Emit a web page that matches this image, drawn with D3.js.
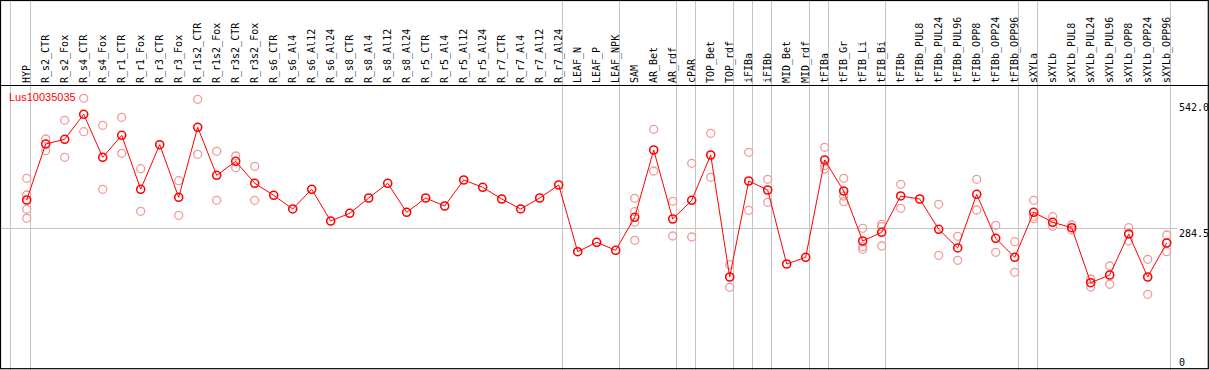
<!DOCTYPE html>
<html>
<head>
<meta charset="utf-8">
<script src="https://cdn.jsdelivr.net/npm/d3@7/dist/d3.min.js"></script>
<style>
  html, body { margin: 0; padding: 0; background: #fff; }
  svg { display: block; }
  text { font-family: "DejaVu Sans Mono", monospace; font-size: 10px; }
</style>
</head>
<body>
<svg id="chart" width="1209" height="370"></svg>
<script>
const geneName = "Lus10035035";

const categories = ["HYP","R_s2_CTR","R_s2_Fox","R_s4_CTR","R_s4_Fox","R_r1_CTR","R_r1_Fox","R_r3_CTR","R_r3_Fox",
  "R_r1s2_CTR","R_r1s2_Fox","R_r3s2_CTR","R_r3s2_Fox","R_s6_CTR","R_s6_Al4","R_s6_Al12","R_s6_Al24",
  "R_s8_CTR","R_s8_Al4","R_s8_Al12","R_s8_Al24","R_r5_CTR","R_r5_Al4","R_r5_Al12","R_r5_Al24",
  "R_r7_CTR","R_r7_Al4","R_r7_Al12","R_r7_Al24","LEAF_N","LEAF_P","LEAF_NPK","SAM","AR_Bet","AR_rdf",
  "cPAR","TOP_Bet","TOP_rdf","iFIBa","iFIBb","MID_Bet","MID_rdf","tFIBa","tFIB_Gr","tFIB_Li","tFIB_Bi",
  "tFIBb","tFIBb_PUL8","tFIBb_PUL24","tFIBb_PUL96","tFIBb_OPP8","tFIBb_OPP24","tFIBb_OPP96",
  "sXYLa","sXYLb","sXYLb_PUL8","sXYLb_PUL24","sXYLb_PUL96","sXYLb_OPP8","sXYLb_OPP24","sXYLb_OPP96"];

const meanValues = [344.6,463.4,473.4,526.5,435.2,481.9,367.3,462.0,350.3,
  498.9,397.0,426.7,380.0,354.5,325.5,367.3,300.0,
  316.3,348.8,380.0,318.4,348.8,331.8,387.0,371.5,
  346.7,325.5,348.8,376.4,234.8,254.8,237.8,307.8,450.7,304.2,
  343.9,440.1,181.1,384.9,365.8,208.7,222.9,429.5,363.7,257.5,276.0,
  353.1,346.7,282.4,242.7,356.7,263.3,222.9,
  318.4,297.2,285.8,169.0,185.3,272.4,181.1,253.3];

const replicateValues = [
  [390.6,355.2,324.8,305.7],[474.1,449.2],[513.8,435.2],[560.5,489.6],[503.1,367.3],[520.1,443.7],[411.0,320.6],[],[385.5,312.1],
  [558.3,441.6],[448.0,343.9],[438.0,413.1],[416.1,343.9],[],[],[],[],
  [],[],[],[],[],[],[],[],
  [],[],[],[],[],[],[],[348.2,319.7,297.2,259.0],[494.7,406.1],[341.8,268.1],
  [422.5,266.0],[486.2,392.8],[207.2,159.2],[445.8,322.7],[388.5,339.7],[],[],[456.4,417.8,410.4],[390.6,353.1,340.9],[284.5,245.4,239.9],[293.0,287.9,246.9],
  [377.9,326.9],[],[335.4,227.2],[267.5,216.5],[388.5,323.3],[290.9,233.5],[256.0,191.1],
  [343.9,310.0,304.9],[309.1,288.7],[291.5,280.9],[176.8,159.9],[204.4,165.6],[285.8,257.5],[218.7,144.4],[270.3,234.8]];

// index of the last category in each group (separator drawn after it)
const groupEnds = [-1,0,28,31,34,35,37,38,39,41,42,45,52,53,60];

const yTicks = [542.0, 284.5, 0];
const yTickLabels = ["542.0", "284.5", "0"];

const W = 1209, H = 370, headerY = 85;
const svg = d3.select("#chart");

const x = d3.scaleLinear().domain([0, categories.length - 1]).range([26.7, 1166.7]);
const y = d3.scaleLinear().domain([0, 542]).range([362.3, 107]);

// group separators
svg.append("g").selectAll("line").data(groupEnds).join("line")
  .attr("x1", d => d < 0 ? 10.7 : x(d) + 4).attr("x2", d => d < 0 ? 10.7 : x(d) + 4)
  .attr("y1", 0).attr("y2", H)
  .attr("stroke", "#c4c4c4").attr("stroke-width", 1).attr("shape-rendering", "crispEdges");

// horizontal mid reference line
svg.append("line")
  .attr("x1", 1).attr("x2", 1177)
  .attr("y1", Math.round(y(284.5)) + 0.5).attr("y2", Math.round(y(284.5)) + 0.5)
  .attr("stroke", "#c4c4c4").attr("stroke-width", 1);

// frame and header line
svg.append("rect").attr("x", 0.5).attr("y", 0.5).attr("width", 1207.8).attr("height", 368.2)
  .attr("fill", "none").attr("stroke", "#000").attr("stroke-width", 1.2);
svg.append("line").attr("x1", 0).attr("x2", W).attr("y1", headerY + 0.5).attr("y2", headerY + 0.5)
  .attr("stroke", "#000").attr("stroke-width", 1.2);

// category labels
svg.append("g").selectAll("text").data(categories).join("text")
  .attr("transform", (d, i) => `translate(${x(i) + 3},${headerY - 2}) rotate(-90)`)
  .attr("text-anchor", "start")
  .attr("fill", "#000")
  .text(d => d);

// y labels
svg.append("g").selectAll("text").data(yTicks).join("text")
  .attr("x", 1179)
  .attr("y", (d, i) => i === 1 ? y(d) + 8.5 : y(d) + 4)
  .attr("fill", "#000")
  .text((d, i) => yTickLabels[i]);

// gene label
svg.append("text").attr("x", 9).attr("y", 101)
  .style("font-family", "'Liberation Sans', Arial, sans-serif").style("font-size", "11px")
  .attr("fill", "#ff0000").text(geneName);

// replicate points
const reps = [];
replicateValues.forEach((arr, i) => arr.forEach(v => reps.push({ i, v })));
svg.append("g").selectAll("circle").data(reps).join("circle")
  .attr("cx", d => x(d.i)).attr("cy", d => y(d.v)).attr("r", 4)
  .attr("fill", "none").attr("stroke", "#f09a9a").attr("stroke-width", 1.3);

// mean line
const line = d3.line().x((d, i) => x(i)).y(d => y(d));
svg.append("path").datum(meanValues).attr("d", line)
  .attr("fill", "none").attr("stroke", "#ff0000").attr("stroke-width", 1);

// mean points
svg.append("g").selectAll("circle").data(meanValues).join("circle")
  .attr("cx", (d, i) => x(i)).attr("cy", d => y(d)).attr("r", 4)
  .attr("fill", "none").attr("stroke", "#ff0000").attr("stroke-width", 1.6);
</script>
</body>
</html>
